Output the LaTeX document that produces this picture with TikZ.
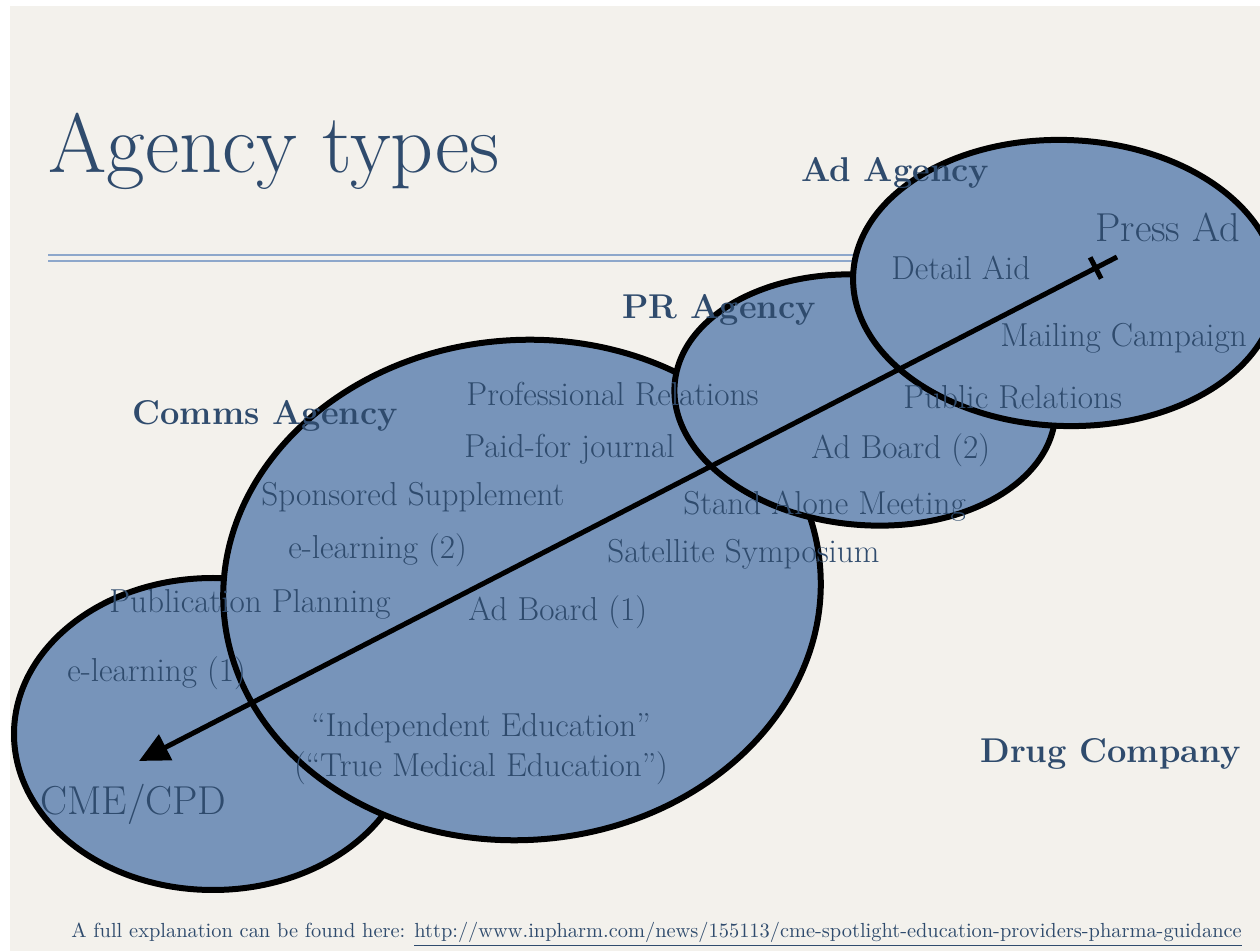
\documentclass[tikz,border=0pt]{standalone}
\usetikzlibrary{arrows.meta,calc}
\definecolor{slidebg}{HTML}{F3F1EC}
\definecolor{blobfill}{HTML}{7794BA}
\definecolor{inkblue}{HTML}{2F4B6D}
\definecolor{rulecol}{HTML}{8DA7CB}
\begin{document}
\begin{tikzpicture}[x=0.5pt,y=-0.5pt,line join=round,
	blob/.style={fill=blobfill,draw=black,line width=3pt},
	item/.style={inner sep=0pt,anchor=base west,text=inkblue,font=\fontsize{16.6}{20}\selectfont},
	agency/.style={item,font=\fontsize{17.2}{20}\selectfont\bfseries},
	big/.style={item,font=\fontsize{20.2}{24}\selectfont}]
	\fill[white] (0,0) rectangle (1260,951);
	\fill[slidebg] (10,6) rectangle (1260,951);
	\useasboundingbox (0,0) rectangle (1260,951);
	\node[item,font=\fontsize{42}{48}\selectfont] (title) at (48,173) {Agency types};
	\draw[rulecol,line width=0.9pt] (48,255)--(1000,255) (48,261)--(1000,261);
	% the four agencies, drawn from the bottom up
	\draw[blob] (213,734) ellipse [x radius=199,y radius=156];
	\draw[blob,rotate around={4:(522,590)}] (522,590) ellipse [x radius=299,y radius=250];
	\draw[blob,rotate around={-5:(865,400)}] (865,400) ellipse [x radius=191,y radius=125];
	\draw[blob,rotate around={-2:(1065,283)}] (1065,283) ellipse [x radius=212,y radius=143];
	\node[agency] (adag) at (801,182) {Ad Agency};
	\node[agency] (prag) at (622,319) {PR Agency};
	\node[agency] (commsag) at (132,425) {Comms Agency};
	\node[agency] (drugco) at (980,763) {Drug Company};
	\node[big] (pressad) at (1095,242) {Press Ad};
	\node[item] (detail) at (891,280) {Detail Aid};
	\node[item] (mailing) at (1000,347) {Mailing Campaign};
	\node[item] (publicrel) at (903,409) {Public Relations};
	\node[item] (adboard2) at (811,459) {Ad Board (2)};
	\node[item] (standalone) at (683,515) {Stand Alone Meeting};
	\node[item] (profrel) at (466,406) {Professional Relations};
	\node[item] (paidfor) at (464,458) {Paid-for journal};
	\node[item] (sponsored) at (261,506) {Sponsored Supplement};
	\node[item] (elearn2) at (288,559) {e-learning (2)};
	\node[item] (satellite) at (607,563) {Satellite Symposium};
	\node[item] (pubplan) at (109,613) {Publication Planning};
	\node[item] (adboard1) at (468,621) {Ad Board (1)};
	\node[item] (elearn1) at (67,682) {e-learning (1)};
	\node[item,anchor=base,align=center] (indep) at (481,777) {``Independent Education''\\(``True Medical Education'')};
	\node[big] (cmecpd) at (40,815) {CME/CPD};
	\node[item,font=\fontsize{10.2}{12}\selectfont] (footer) at (71,938) {A full explanation can be found here: \underline{http://www.inpharm.com/news/155113/cme-spotlight-education-providers-pharma-guidance}};
	% spectrum arrow
	\coordinate (pressend) at (1117,257);
	\coordinate (cmeend) at (139,761);
	\draw[line width=2.5pt,-{Triangle[length=15pt,width=14pt]}] (pressend) -- (cmeend);
	\coordinate (tick) at ($(pressend)!12pt!(cmeend)$);
	\draw[line width=2.5pt] ($(tick)!6pt!90:(cmeend)$) -- ($(tick)!6pt!-90:(cmeend)$);
\end{tikzpicture}
\end{document}
